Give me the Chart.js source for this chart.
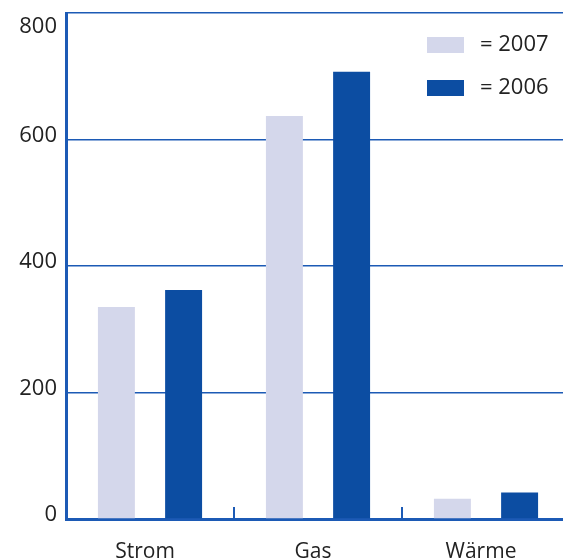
<!DOCTYPE html>
<html>
<head>
<meta charset="utf-8">
<script src="https://cdn.jsdelivr.net/npm/chart.js@4"></script>
<style>
  html, body { margin: 0; padding: 0; background: #fff; overflow: hidden; }
  #wrap { width: 575px; height: 559px; }
</style>
</head>
<body>
<div id="wrap"><canvas id="chart" width="575" height="559"></canvas></div>
<script>
const categories = ["Strom", "Gas", "Wärme"];
const years = ["2007", "2006"];
const values2007 = [335, 637, 32];
const values2006 = [362, 707, 42];
const yTicks = [0, 200, 400, 600, 800];

const BLUE = "#1c5ab5";
const TEXT = "#222222";

Chart.defaults.font.family = "'Open Sans', sans-serif";

// kleine Striche zwischen den Kategorien, nach oben
const boundaryTicks = {
  id: "boundaryTicks",
  afterDatasetsDraw(chart) {
    const x = chart.scales.x;
    const bottom = chart.chartArea.bottom;
    const ctx = chart.ctx;
    ctx.save();
    ctx.strokeStyle = BLUE;
    ctx.lineWidth = 2;
    for (let i = 1; i < categories.length; i++) {
      const px = (x.getPixelForValue(i - 1) + x.getPixelForValue(i)) / 2;
      ctx.beginPath();
      ctx.moveTo(px, bottom);
      ctx.lineTo(px, bottom - 12);
      ctx.stroke();
    }
    ctx.restore();
  }
};

// Legende oben rechts im Diagramm
const boxLegend = {
  id: "boxLegend",
  afterDraw(chart) {
    const ctx = chart.ctx;
    ctx.save();
    ctx.font = "22px 'Open Sans', sans-serif";
    ctx.textBaseline = "middle";
    chart.data.datasets.forEach((ds, i) => {
      const y = 37 + i * 43;
      ctx.fillStyle = ds.backgroundColor;
      ctx.fillRect(427, y, 37, 16);
      ctx.fillStyle = TEXT;
      ctx.fillText("= " + ds.label, 480, y + 8);
    });
    ctx.restore();
  }
};

new Chart(document.getElementById("chart"), {
  type: "bar",
  data: {
    labels: categories,
    datasets: [
      { label: years[0], data: values2007, backgroundColor: "#d4d7eb" },
      { label: years[1], data: values2006, backgroundColor: "#0c4da2" }
    ]
  },
  options: {
    responsive: false,
    animation: false,
    layout: { padding: { top: 13, right: 5, left: 0, bottom: 0 } },
    datasets: { bar: { categoryPercentage: 0.8, barPercentage: 0.55 } },
    scales: {
      x: {
        grid: { display: false },
        border: { display: true, color: BLUE, width: 3 },
        ticks: { color: TEXT, font: { size: 21 }, padding: 12, labelOffset: -5 },
        afterFit(scale) {
          scale.height = 40;
          scale.paddingLeft = 0;
          scale.paddingRight = 0;
        }
      },
      y: {
        min: 0,
        max: 800,
        afterBuildTicks(scale) {
          scale.ticks = yTicks.map((v) => ({ value: v }));
        },
        grid: { color: BLUE, lineWidth: 1.5, drawTicks: false },
        border: { display: true, color: BLUE, width: 3 },
        ticks: {
          color: TEXT,
          font: { size: 22, lineHeight: 1.6 },
          padding: 9,
          labelOffset: -4,
          callback: (v) => (v === 800 ? ["", String(v)] : String(v))
        },
        afterFit(scale) {
          scale.width = 66;
          scale.paddingTop = 0;
          scale.paddingBottom = 0;
        }
      }
    },
    plugins: {
      legend: { display: false },
      tooltip: { enabled: false }
    }
  },
  plugins: [boundaryTicks, boxLegend]
});
</script>
</body>
</html>
